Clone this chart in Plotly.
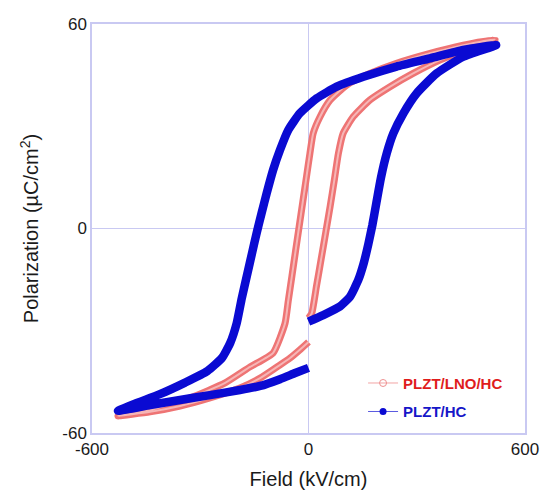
import plotly.graph_objects as go

# P-E hysteresis loops, field in kV/cm, polarization in uC/cm^2
# PLZT/LNO/HC: starts at E=0, up to +Emax, down to -Emax, back to 0
lno_field = [0, 9, 22, 35, 48, 60, 72, 83, 96, 124, 170, 226, 290, 364, 448, 517,
             429, 337, 244, 170, 106, 60, 32, 13, 4, -6, -16, -26, -36, -46, -56, -65,
             -98, -162, -231, -328, -439, -528,
             -439, -356, -273, -190, -134, -87, -51, -24, 0]
lno_pol = [-26.3, -24.9, -17.0, -9.0, -1.0, 6.5, 14.5, 22.1, 27.9, 32.8, 37.7, 41.6, 45.5, 49.4, 52.9, 55.5,
           53.8, 51.4, 48.5, 45.5, 42.1, 37.7, 32.8, 27.9, 22.1, 14.9, 7.7, 0.5, -6.7, -14.0, -21.2, -27.8,
           -36.5, -40.6, -45.3, -49.7, -53.3, -55.0,
           -53.8, -52.1, -49.7, -46.8, -43.9, -40.6, -38.0, -35.6, -33.3]

# PLZT/HC
hc_field = [0, 41, 87, 115, 138, 153, 166, 177, 188, 201, 217, 235, 263, 300, 355, 429, 520,
            429, 337, 244, 152, 78, 23, -24, -56, -79, -98, -116, -130, -143, -156, -170, -185, -199,
            -217, -240, -280, -342, -412, -481, -528,
            -439, -356, -273, -190, -134, -79, -37, 0]
hc_pol = [-27.3, -25.4, -22.9, -20.0, -15.1, -10.2, -4.5, 1.0, 7.5, 15.0, 22.1, 27.9, 33.8, 39.7, 45.5, 50.4, 53.8,
          52.4, 49.9, 47.5, 44.5, 41.6, 38.2, 33.8, 28.9, 23.0, 17.2, 10.3, 4.5, -1.0, -7.0, -13.5, -20.5, -27.8,
          -33.6, -38.0, -41.8, -45.2, -48.6, -51.4, -53.5,
          -51.8, -50.3, -48.9, -47.4, -46.2, -44.2, -42.4, -40.9]

x_ticks = [-600, 0, 600]
y_ticks = [-60, 0, 60]

RED = "#ee7474"
RED_TEXT = "#e01c1c"
BLUE = "#0a0ad2"
BLUE_TEXT = "#1616c8"
FRAME = "#c9c9f2"
FONT = "Arial, Liberation Sans"

fig = go.Figure()

# ring-chain look of the open-circle series: salmon band with a pale core
fig.add_trace(go.Scatter(x=lno_field, y=lno_pol, mode="lines",
                         line=dict(color=RED, width=7, shape="spline", smoothing=0.5),
                         showlegend=False, hoverinfo="skip"))
fig.add_trace(go.Scatter(x=lno_field, y=lno_pol, mode="lines",
                         line=dict(color="#f6b6b6", width=2, shape="spline", smoothing=0.5),
                         showlegend=False, hoverinfo="skip"))
fig.add_trace(go.Scatter(x=hc_field, y=hc_pol, mode="lines",
                         line=dict(color=BLUE, width=8.5, shape="spline", smoothing=0.5),
                         showlegend=False, hoverinfo="skip"))

# legend entries
fig.add_trace(go.Scatter(x=[None], y=[None], mode="lines+markers",
                         name=f"<b><span style='color:{RED_TEXT}'>PLZT/LNO/HC</span></b>",
                         legendgroup="a",
                         line=dict(color="#f2a4a4", width=1),
                         marker=dict(symbol="circle-open", size=7, color="#ee9090", line=dict(width=1))))
fig.add_trace(go.Scatter(x=[None], y=[None], mode="lines+markers",
                         name=f"<b><span style='color:{BLUE_TEXT}'>PLZT/HC</span></b>",
                         legendgroup="b",
                         line=dict(color="#5a5ae0", width=1),
                         marker=dict(symbol="circle", size=7, color=BLUE)))

axis_common = dict(showgrid=False, zeroline=True, zerolinecolor=FRAME, zerolinewidth=1,
                   showline=True, linecolor=FRAME, linewidth=1.5, mirror=True,
                   ticks="", automargin=False,
                   tickfont=dict(family=FONT, size=17, color="#1a1a1a"),
                   title_font=dict(family=FONT, size=20, color="#1a1a1a"))

fig.update_xaxes(range=[-600, 600], tickvals=x_ticks, ticktext=[str(v) for v in x_ticks],
                 title_text="Field (kV/cm)", title_standoff=14, **axis_common)
fig.update_yaxes(range=[-60, 60], tickvals=y_ticks, ticktext=[str(v) for v in y_ticks],
                 title_text="Polarization (\u00b5C/cm<sup>2</sup>)", title_standoff=18, **axis_common)

fig.update_layout(
    width=544, height=491,
    margin=dict(l=92, r=19, t=24, b=58),
    paper_bgcolor="white", plot_bgcolor="white",
    showlegend=True,
    legend=dict(x=0.626, y=0.162, xanchor="left", yanchor="top",
                bgcolor="rgba(0,0,0,0)", borderwidth=0,
                traceorder="grouped", tracegroupgap=6,
                font=dict(family=FONT, size=15)),
)

fig.write_html("out.html")
